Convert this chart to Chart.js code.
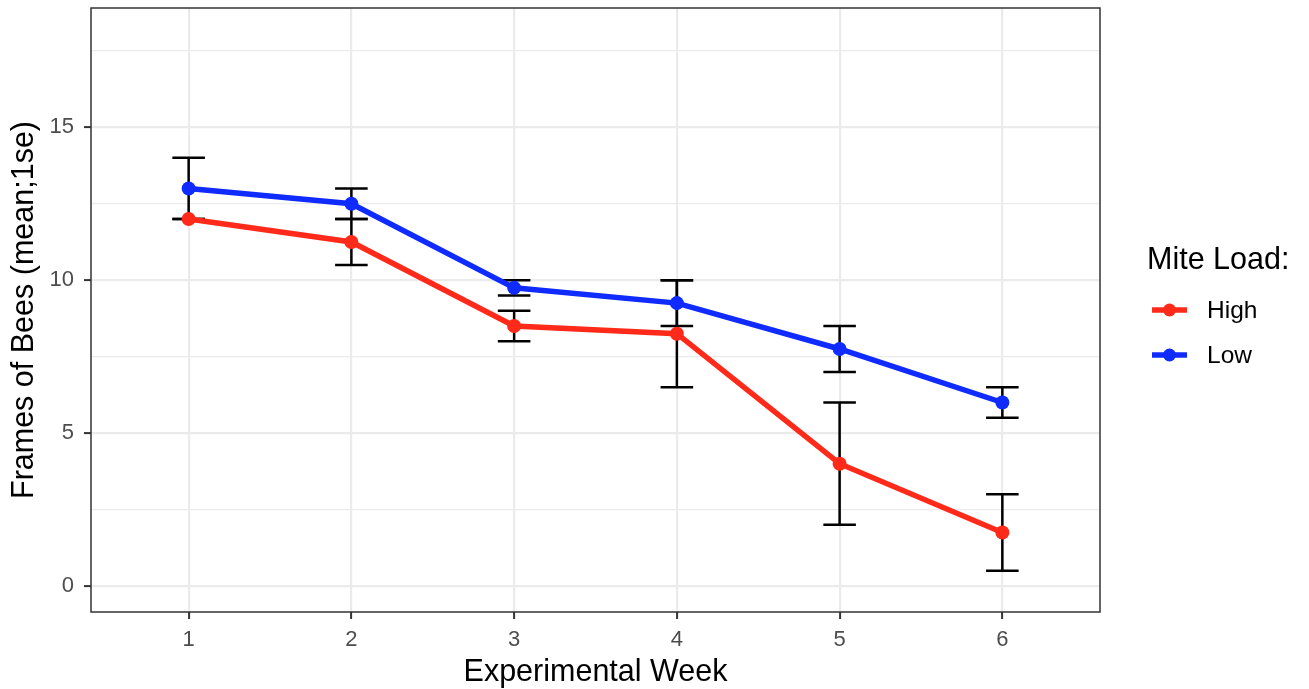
<!DOCTYPE html>
<html>
<head>
<meta charset="utf-8">
<script src="https://cdn.jsdelivr.net/npm/chart.js@4.4.1/dist/chart.umd.min.js"></script>
<style>
  html, body { margin: 0; padding: 0; background: #ffffff; }
  #wrap { width: 1309px; height: 689px; }
</style>
</head>
<body>
<div id="wrap"><canvas id="c" width="1309" height="689"></canvas></div>
<script>
const weeks = [1, 2, 3, 4, 5, 6];
const highMean = [12, 11.25, 8.5, 8.25, 4, 1.75];
const highSE = [0, 0.75, 0.5, 1.75, 2, 1.25];
const lowMean = [13, 12.5, 9.75, 9.25, 7.75, 6];
const lowSE = [1, 0.5, 0.25, 0.75, 0.75, 0.5];
const yTicks = [0, 2.5, 5, 7.5, 10, 12.5, 15, 17.5];
const seriesNames = ['High', 'Low'];
const legendTitle = 'Mite Load:';
const xTitle = 'Experimental Week';
const yTitle = 'Frames of Bees (mean;1se)';

const RED = '#ff2a1a';
const BLUE = '#0f2bff';
const FONT = "'Liberation Sans', Arial, Helvetica, sans-serif";

const errorBars = {
  id: 'errorBars',
  beforeDatasetsDraw(chart) {
    const ctx = chart.ctx, xs = chart.scales.x, ys = chart.scales.y;
    ctx.save();
    ctx.strokeStyle = '#000000';
    ctx.lineWidth = 2.5;
    chart.data.datasets.forEach(ds => {
      ds.data.forEach((p, i) => {
        const se = ds.errors[i];
        const x = xs.getPixelForValue(p.x);
        const x0 = xs.getPixelForValue(p.x - 0.1);
        const x1 = xs.getPixelForValue(p.x + 0.1);
        const yt = ys.getPixelForValue(p.y + se);
        const yb = ys.getPixelForValue(p.y - se);
        ctx.beginPath();
        ctx.moveTo(x, yt); ctx.lineTo(x, yb);
        ctx.moveTo(x0, yt); ctx.lineTo(x1, yt);
        ctx.moveTo(x0, yb); ctx.lineTo(x1, yb);
        ctx.stroke();
      });
    });
    ctx.restore();
  }
};

const panelBorder = {
  id: 'panelBorder',
  afterDraw(chart) {
    const a = chart.chartArea, ctx = chart.ctx;
    ctx.save();
    ctx.strokeStyle = '#333333';
    ctx.lineWidth = 1.5;
    ctx.strokeRect(a.left, a.top, a.right - a.left, a.bottom - a.top);
    ctx.restore();
  }
};

const sideLegend = {
  id: 'sideLegend',
  afterDraw(chart) {
    const ctx = chart.ctx;
    ctx.save();
    ctx.fillStyle = '#000000';
    ctx.textAlign = 'left';
    ctx.textBaseline = 'alphabetic';
    ctx.font = '30.5px ' + FONT;
    ctx.fillText(legendTitle, 1147, 269);
    ctx.font = '24.5px ' + FONT;
    chart.data.datasets.forEach((ds, i) => {
      const y = 310 + i * 45;
      ctx.strokeStyle = ds.borderColor;
      ctx.lineWidth = 5.5;
      ctx.beginPath();
      ctx.moveTo(1152, y); ctx.lineTo(1187, y);
      ctx.stroke();
      ctx.fillStyle = ds.borderColor;
      ctx.beginPath();
      ctx.arc(1169.5, y, 6.5, 0, Math.PI * 2);
      ctx.fill();
      ctx.fillStyle = '#000000';
      ctx.textBaseline = 'middle';
      ctx.fillText(ds.label, 1207, y + 1);
    });
    ctx.restore();
  }
};

const mk = (means) => weeks.map((w, i) => ({ x: w, y: means[i] }));

new Chart(document.getElementById('c'), {
  type: 'scatter',
  data: {
    datasets: [
      { label: seriesNames[0], data: mk(highMean), errors: highSE,
        borderColor: RED, backgroundColor: RED, showLine: true, borderWidth: 5.5,
        pointRadius: 7, pointHoverRadius: 7, pointBorderWidth: 0, tension: 0 },
      { label: seriesNames[1], data: mk(lowMean), errors: lowSE,
        borderColor: BLUE, backgroundColor: BLUE, showLine: true, borderWidth: 5.5,
        pointRadius: 7, pointHoverRadius: 7, pointBorderWidth: 0, tension: 0 }
    ]
  },
  options: {
    responsive: false,
    animation: false,
    devicePixelRatio: 1,
    layout: { padding: { top: 8, right: 209, left: 0, bottom: 0 } },
    plugins: { legend: { display: false }, tooltip: { enabled: false } },
    scales: {
      x: {
        type: 'linear', min: 0.4, max: 6.6,
        afterBuildTicks: s => { s.ticks = weeks.map(v => ({ value: v })); },
        afterFit: s => { s.height = 77; s.paddingLeft = 0; s.paddingRight = 0; },
        border: { display: false },
        grid: { color: '#ebebeb', lineWidth: 2.2, tickColor: '#333333', tickLength: 7, tickWidth: 2 },
        ticks: { color: '#4d4d4d', font: { family: FONT, size: 22 }, padding: 8, maxRotation: 0,
                 callback: v => String(v) },
        title: { display: true, text: xTitle, color: '#000000',
                 font: { family: FONT, size: 30.5, lineHeight: 1.1 }, padding: { top: 0, bottom: 0 } }
      },
      y: {
        type: 'linear', min: -0.85, max: 18.9,
        afterBuildTicks: s => { s.ticks = yTicks.map(v => ({ value: v })); },
        afterFit: s => { s.width = 91; s.paddingTop = 0; s.paddingBottom = 0; },
        border: { display: false },
        grid: {
          color: '#ebebeb',
          lineWidth: c => (c.tick && c.tick.value % 5 === 0) ? 2.2 : 1.2,
          tickColor: c => (c.tick && c.tick.value % 5 === 0) ? '#333333' : 'rgba(0,0,0,0)',
          tickLength: 7, tickWidth: 2
        },
        ticks: { color: '#4d4d4d', font: { family: FONT, size: 22 }, padding: 10,
                 callback: v => (v % 5 === 0 ? String(v) : '') },
        title: { display: true, text: yTitle, color: '#000000',
                 font: { family: FONT, size: 30.5, lineHeight: 1.1 }, padding: { top: 8, bottom: 0 } }
      }
    }
  },
  plugins: [errorBars, panelBorder, sideLegend]
});
</script>
</body>
</html>
